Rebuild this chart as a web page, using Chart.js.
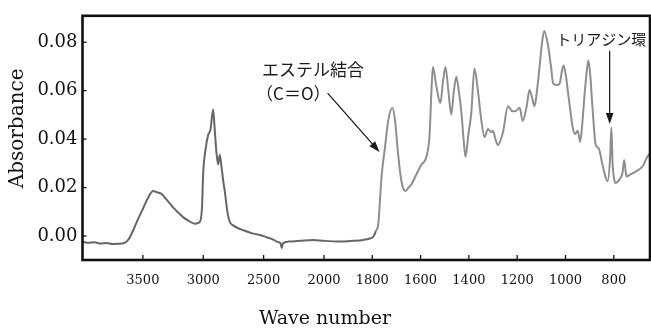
<!DOCTYPE html>
<html>
<head>
<meta charset="utf-8">
<script src="https://cdn.jsdelivr.net/npm/chart.js@4.4.1/dist/chart.umd.min.js"></script>
<style>
  html, body { margin: 0; padding: 0; background: #fff; }
  #wrap { width: 651px; height: 329px; position: relative; }
</style>
</head>
<body>
<div id="wrap"><canvas id="ir-spectrum"></canvas></div>
<script>
// spectrum (cm-1, absorbance)
const wave_number = [
  3995, 3950, 3900, 3850, 3800, 3750, 3700, 3660, 3620, 3580, 3540, 3500, 3460, 3415, 3380, 3346,
  3300, 3250, 3210, 3167, 3120, 3070, 3029, 3010, 3001, 2980, 2960, 2940, 2918, 2905, 2891, 2877,
  2863, 2850, 2835, 2822, 2800, 2780, 2753, 2700, 2668, 2600, 2530, 2470, 2420, 2391, 2360, 2350,
  2340, 2295, 2200, 2089, 2000, 1934, 1880, 1837, 1810, 1796, 1785, 1775, 1768, 1761, 1748, 1735,
  1717, 1705, 1694, 1683, 1673, 1662, 1650, 1638, 1618, 1597, 1576, 1563, 1555, 1549, 1535, 1518,
  1507, 1497, 1485, 1473, 1462, 1452, 1442, 1431, 1422, 1414, 1402, 1390, 1377, 1363, 1349, 1335,
  1321, 1307, 1300, 1290, 1280, 1259, 1238, 1220, 1206, 1190, 1177, 1160, 1149, 1138, 1128, 1118,
  1108, 1098, 1088, 1072, 1060, 1051, 1037, 1024, 1015, 1008, 998, 990, 980, 970, 960, 949,
  939, 930, 921, 912, 905, 897, 890, 883, 876, 862, 848, 835, 825, 815, 810, 805,
  800, 794, 777, 764, 757, 750, 747, 733, 708, 681, 661, 652
];
const absorbance = [
  -0.0024, -0.0028, -0.0026, -0.0031, -0.0029, -0.0033, -0.0032, -0.0030, -0.0015, 0.0024, 0.0070, 0.0112, 0.0155, 0.0186, 0.0180, 0.0174,
  0.0148, 0.0118, 0.0098, 0.0078, 0.0062, 0.0051, 0.0058, 0.0120, 0.0255, 0.0360, 0.0416, 0.0440, 0.0522, 0.0440, 0.0347, 0.0295,
  0.0335, 0.0290, 0.0230, 0.0186, 0.0100, 0.0058, 0.0044, 0.0030, 0.0024, 0.0012, 0.0004, -0.0006, -0.0015, -0.0023, -0.0030, -0.0050,
  -0.0030, -0.0023, -0.0020, -0.0016, -0.0020, -0.0023, -0.0020, -0.0016, -0.0010, -0.0003, 0.0020, 0.0051, 0.0150, 0.0253, 0.0361, 0.0470,
  0.0529, 0.0470, 0.0347, 0.0250, 0.0199, 0.0186, 0.0200, 0.0213, 0.0253, 0.0294, 0.0327, 0.0415, 0.0600, 0.0698, 0.0620, 0.0549,
  0.0640, 0.0698, 0.0600, 0.0502, 0.0600, 0.0657, 0.0600, 0.0509, 0.0400, 0.0327, 0.0420, 0.0509, 0.0691, 0.0603, 0.0482, 0.0408,
  0.0442, 0.0428, 0.0435, 0.0400, 0.0375, 0.0428, 0.0536, 0.0515, 0.0516, 0.0529, 0.0475, 0.0540, 0.0603, 0.0570, 0.0536, 0.0600,
  0.0691, 0.0790, 0.0846, 0.0785, 0.0700, 0.0630, 0.0623, 0.0630, 0.0680, 0.0704, 0.0660, 0.0597, 0.0520, 0.0448, 0.0421, 0.0435,
  0.0388, 0.0470, 0.0583, 0.0680, 0.0724, 0.0660, 0.0556, 0.0460, 0.0381, 0.0361, 0.0300, 0.0246, 0.0226, 0.0327, 0.0448, 0.0300,
  0.0246, 0.0219, 0.0233, 0.0260, 0.0314, 0.0260, 0.0246, 0.0253, 0.0267, 0.0287, 0.0327, 0.0340
];
const x_ticks = [3500, 3000, 2500, 2000, 1800, 1600, 1400, 1200, 1000, 800];
const y_ticks = [0, 0.02, 0.04, 0.06, 0.08];

// annotation anchors, in data units [wave number, absorbance]
const ester_label = ["エステル結合", "（C＝O）"];
const ester_text = [2513, 0.0687, 0.0590];
const ester_arrow = [1985, 0.0590, 1770, 0.0347];
const triazine_label = "トリアジン環";
const triazine_text = [852, 0.0812];
const triazine_arrow = [817, 0.0765, 817, 0.0462];

// the spectrometer doubles the scale below 2000 cm-1
function toAxis(wn) { return wn >= 2000 ? wn : 2 * wn - 2000; }
function fromAxis(u) { return u >= 2000 ? u : (u + 2000) / 2; }

const points = wave_number.map((wn, i) => ({ x: toAxis(wn), y: absorbance[i] }));

function arrow(ctx, x1, y1, x2, y2) {
  const a = Math.atan2(y2 - y1, x2 - x1);
  const len = 11, half = 3.8;
  ctx.lineWidth = 1.2;
  ctx.beginPath();
  ctx.moveTo(x1, y1);
  ctx.lineTo(x2 - Math.cos(a) * len * 0.8, y2 - Math.sin(a) * len * 0.8);
  ctx.stroke();
  ctx.beginPath();
  ctx.moveTo(x2, y2);
  ctx.lineTo(x2 - Math.cos(a) * len + Math.sin(a) * half, y2 - Math.sin(a) * len - Math.cos(a) * half);
  ctx.lineTo(x2 - Math.cos(a) * len - Math.sin(a) * half, y2 - Math.sin(a) * len + Math.cos(a) * half);
  ctx.closePath();
  ctx.fill();
}

// frame with inward ticks + labels and arrows
const frame = {
  id: "frame",
  afterDraw(chart) {
    const ctx = chart.ctx;
    const area = chart.chartArea;
    const xs = chart.scales.x, ys = chart.scales.y;
    const px = (wn) => xs.getPixelForValue(toAxis(wn));
    const py = (a) => ys.getPixelForValue(a);
    ctx.save();
    ctx.strokeStyle = "#111";
    ctx.fillStyle = "#1a1a1a";
    ctx.lineWidth = 1.3;
    x_ticks.forEach((w) => {
      ctx.beginPath();
      ctx.moveTo(px(w), area.bottom);
      ctx.lineTo(px(w), area.bottom - 5);
      ctx.stroke();
    });
    y_ticks.forEach((v) => {
      ctx.beginPath();
      ctx.moveTo(area.left, py(v));
      ctx.lineTo(area.left + 4, py(v));
      ctx.stroke();
    });
    ctx.lineWidth = 2.6;
    ctx.strokeRect(area.left, area.top, area.right - area.left, area.bottom - area.top);

    ctx.font = '17px "Noto Sans CJK JP"';
    ctx.textAlign = "left";
    ctx.textBaseline = "middle";
    ctx.fillText(ester_label[0], px(ester_text[0]), py(ester_text[1]));
    ctx.fillText(ester_label[1], px(ester_text[0]) - 6, py(ester_text[2]));
    ctx.font = '15px "Noto Sans CJK JP"';
    ctx.textAlign = "center";
    ctx.fillText(triazine_label, px(triazine_text[0]), py(triazine_text[1]));

    arrow(ctx, px(ester_arrow[0]), py(ester_arrow[1]), px(ester_arrow[2]), py(ester_arrow[3]));
    arrow(ctx, px(triazine_arrow[0]), py(triazine_arrow[1]), px(triazine_arrow[2]), py(triazine_arrow[3]));
    ctx.restore();
  }
};

const serif = "'DejaVu Serif', serif";

new Chart(document.getElementById("ir-spectrum"), {
  type: "line",
  data: {
    datasets: [
      {
        label: "Absorbance",
        data: points,
        borderWidth: 2,
        borderColor: "#888888",
        pointRadius: 0,
        cubicInterpolationMode: "monotone",
        segment: {
          borderColor: (ctx) => (ctx.p0.parsed.x > toAxis(1790) ? "#666666" : "#8e8e8e"),
        },
      },
    ],
  },
  options: {
    responsive: true,
    maintainAspectRatio: false,
    animation: false,
    layout: { padding: { top: 11, right: 1, left: 0, bottom: 0 } },
    scales: {
      x: {
        type: "linear",
        reverse: true,
        min: toAxis(650),
        max: 4000,
        grid: { display: false, drawTicks: false, tickLength: 0 },
        border: { display: false },
        afterBuildTicks: (scale) => {
          scale.ticks = x_ticks.map((w) => ({ value: toAxis(w) }));
        },
        afterFit: (scale) => { scale.height = 50; },
        ticks: {
          autoSkip: false,
          maxRotation: 0,
          padding: 13,
          color: "#111",
          font: { family: serif, size: 13 },
          callback: (v) => String(fromAxis(v)),
        },
      },
      y: {
        type: "linear",
        min: -0.0099,
        max: 0.0909,
        grid: { display: false, drawTicks: false, tickLength: 0 },
        border: { display: false },
        afterBuildTicks: (scale) => {
          scale.ticks = y_ticks.map((v) => ({ value: v }));
        },
        afterFit: (scale) => { scale.width = 82.5; },
        ticks: {
          padding: 5,
          color: "#111",
          font: { family: serif, size: 18 },
          callback: (v) => v.toFixed(2),
        },
        title: {
          display: true,
          // leading spaces nudge the rotated title up a bit, like the original
          text: "\u00a0\u00a0\u00a0Absorbance",
          color: "#111",
          padding: { top: 6, bottom: 0 },
          font: { family: serif, size: 20 },
        },
      },
    },
    plugins: {
      legend: { display: false },
      tooltip: { enabled: false },
      title: {
        display: true,
        position: "bottom",
        text: "Wave number",
        color: "#111",
        padding: 0,
        font: { family: serif, size: 19, weight: "normal", lineHeight: 1 },
      },
    },
  },
  plugins: [frame],
});
</script>
</body>
</html>
